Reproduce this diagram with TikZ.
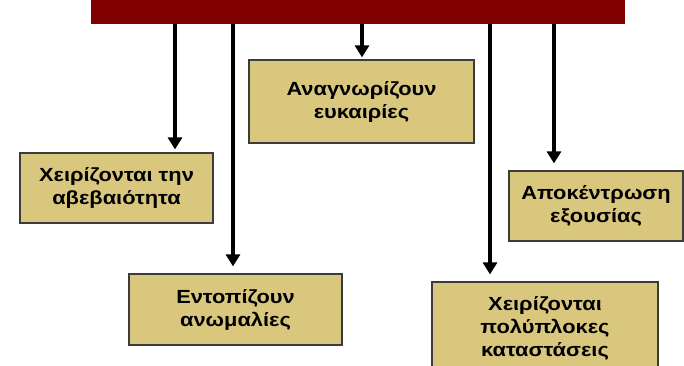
\documentclass[tikz,border=0pt]{standalone}
\usepackage{fontspec}
\setmainfont{Liberation Sans}[FakeStretch=1.15]
\usetikzlibrary{positioning, arrows.meta}

\definecolor{barred}{HTML}{800000}
\definecolor{boxtan}{HTML}{D9C77E}
\definecolor{boxline}{HTML}{3C3C3C}

\begin{document}
\begin{tikzpicture}[x=1pt, y=-1pt,
    trait/.style={rectangle, draw=boxline, line width=1.2pt, fill=boxtan, align=center, inner sep=0pt,
        font=\fontsize{19}{23}\selectfont\bfseries},
    arr/.style={line width=4pt, -{Triangle[width=14pt, length=12pt]}, shorten >=3pt}]
    \useasboundingbox (0,0) rectangle (684,365);

    \node[fill=barred, minimum width=534pt, minimum height=34pt, inner sep=0pt] (bar) at (358, 7) {};

    \node[trait, minimum width=193pt, minimum height=70pt] (uncert) at (116.5, 188) {Χειρίζονται την\\αβεβαιότητα};
    \node[trait, minimum width=213pt, minimum height=71pt] (anom) at (235.5, 309.5) {Εντοπίζουν\\ανωμαλίες};
    \node[trait, minimum width=225pt, minimum height=83pt] (opport) at (361.5, 101.5) {Αναγνωρίζουν\\ευκαιρίες};
    \node[trait, minimum width=174pt, minimum height=70pt] (decent) at (596, 206) {Αποκέντρωση\\εξουσίας};
    \node[trait, minimum width=226pt, minimum height=92pt] (complex) at (545, 328) {Χειρίζονται\\πολύπλοκες\\καταστάσεις};

    \coordinate (c1) at (175, 0);
    \coordinate (c2) at (233, 0);
    \coordinate (c3) at (362, 0);
    \coordinate (c4) at (490, 0);
    \coordinate (c5) at (554, 0);

    \draw[arr] (bar.south -| c1) -- (uncert.north -| c1);
    \draw[arr, shorten >=7pt] (bar.south -| c2) -- (anom.north -| c2);
    \draw[arr, shorten >=2pt] (bar.south -| c3) -- (opport.north -| c3);
    \draw[arr, shorten >=7pt] (bar.south -| c4) -- (complex.north -| c4);
    \draw[arr, shorten >=7pt] (bar.south -| c5) -- (decent.north -| c5);
\end{tikzpicture}
\end{document}
